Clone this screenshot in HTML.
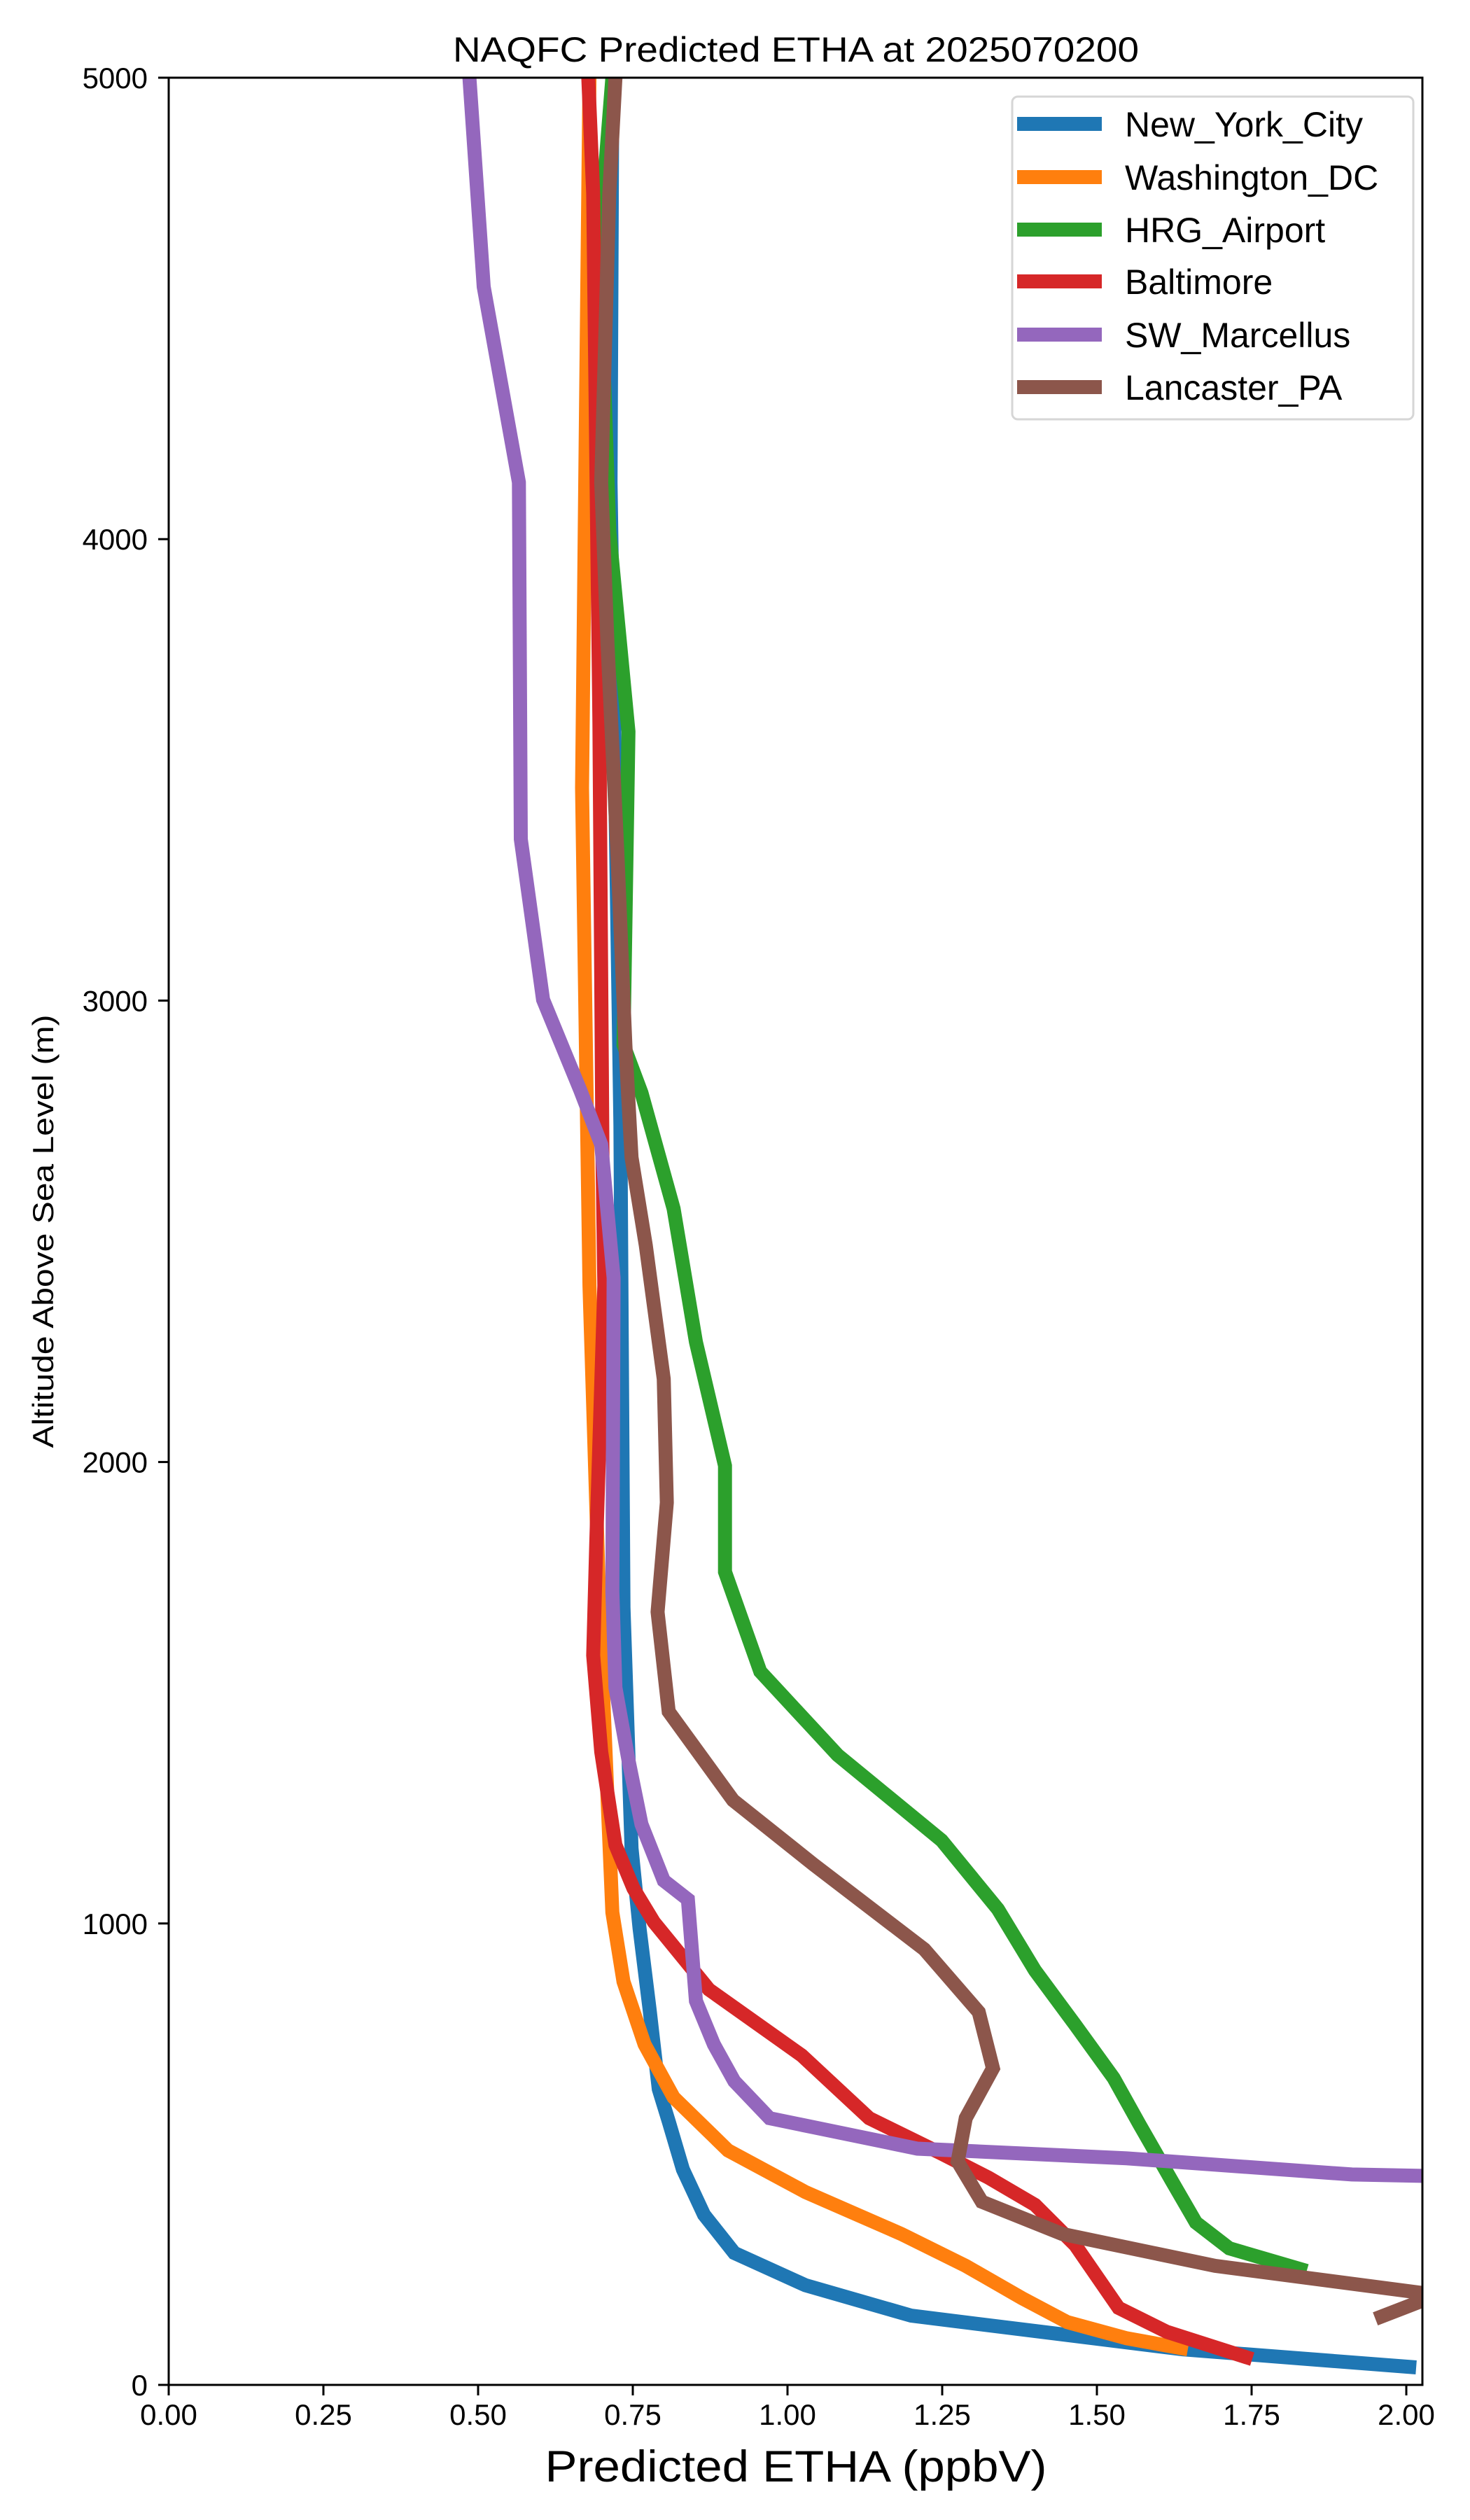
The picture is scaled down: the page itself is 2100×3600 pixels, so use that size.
<!DOCTYPE html>
<html><head><meta charset="utf-8"><style>
html,body{margin:0;padding:0;background:#fff;}
svg{display:block;font-family:"Liberation Sans","DejaVu Sans",sans-serif;}
</style></head><body>
<svg id="chart" width="2100" height="3600" viewBox="0 0 2100 3600" xmlns="http://www.w3.org/2000/svg">
<rect x="0" y="0" width="2100" height="3600" fill="#fff"/>
<defs><clipPath id="plotclip"><rect x="241" y="111" width="1791" height="3296"/></clipPath></defs>
<text x="1137" y="88" font-size="50" text-anchor="middle" textLength="980" lengthAdjust="spacingAndGlyphs">NAQFC Predicted ETHA at 2025070200</text>
<text x="1137" y="3545" font-size="63" text-anchor="middle" textLength="717" lengthAdjust="spacingAndGlyphs">Predicted ETHA (ppbV)</text>
<text x="0" y="0" font-size="42" text-anchor="middle" transform="translate(76,1759) rotate(-90)" textLength="619" lengthAdjust="spacingAndGlyphs">Altitude Above Sea Level (m)</text>
<g id="lines" clip-path="url(#plotclip)"></g>
<g id="axes"></g>
<g id="legend"></g>
</svg>
<script>
const seriesNames = ["New_York_City","Washington_DC","HRG_Airport","Baltimore","SW_Marcellus","Lancaster_PA"];
const seriesColors = ["#1f77b4","#ff7f0e","#2ca02c","#d62728","#9467bd","#8c564b"];
const nycVal = [0.717,0.714,0.730,0.735,0.748,0.761,0.777,0.792,0.808,0.831,0.865,0.914,1.029,1.20,1.639,2.016];
const nycAlt = [5000,4123,2730,1685,1163,989,815,641,571,467,369,286,216,150,77,38];
const dcVal = [0.680,0.668,0.680,0.696,0.717,0.735,0.769,0.816,0.904,1.029,1.184,1.288,1.379,1.452,1.548,1.647];
const dcAlt = [5000,3461,2382,1685,1024,874,738,623,508,418,327,258,188,136,101,77];
const hrgVal = [0.717,0.696,0.712,0.743,0.735,0.764,0.816,0.852,0.899,0.899,0.956,1.081,1.249,1.340,1.400,1.465,1.527,1.569,1.621,1.660,1.714,1.839];
const hrgAlt = [5000,4645,4018,3583,2904,2800,2549,2260,1992,1762,1546,1365,1180,1031,898,780,665,564,442,352,296,247];
const balVal = [0.678,0.686,0.696,0.701,0.704,0.691,0.686,0.699,0.722,0.751,0.784,0.873,1.023,1.132,1.249,1.325,1.400,1.465,1.535,1.613,1.751];
const balAlt = [5000,4749,3600,2660,2382,1825,1581,1372,1170,1076,1003,857,714,578,501,449,390,303,167,115,56];
const swmVal = [0.486,0.509,0.566,0.569,0.605,0.665,0.699,0.719,0.717,0.722,0.743,0.764,0.800,0.839,0.852,0.881,0.914,0.971,1.210,1.548,1.912,2.026];
const swmAlt = [5000,4547,4123,3350,3002,2806,2688,2399,1720,1511,1354,1215,1093,1052,832,738,658,578,512,491,456,453];
const lanVal = [0.722,0.712,0.699,0.709,0.725,0.738,0.748,0.771,0.800,0.805,0.790,0.808,0.912,1.042,1.221,1.309,1.332,1.288,1.275,1.314,1.444,1.691,2.05,1.95];
const lanAlt = [5000,4749,4123,3775,3322,2904,2660,2469,2180,1912,1675,1459,1267,1128,944,808,686,578,484,397,327,258,195,143];
const xTicks = [0,0.25,0.5,0.75,1.0,1.25,1.5,1.75,2.0];
const xTickLabels = ["0.00","0.25","0.50","0.75","1.00","1.25","1.50","1.75","2.00"];
const yTicks = [0,1000,2000,3000,4000,5000];
const yTickLabels = ["0","1000","2000","3000","4000","5000"];

const NS="http://www.w3.org/2000/svg";
const X0=241, PX=884, Y0=3407, PY=0.6592;
function xs(v){return X0+v*PX;}
function ys(a){return Y0-a*PY;}
function mk(tag,attrs,parent){const e=document.createElementNS(NS,tag);for(const k in attrs)e.setAttribute(k,attrs[k]);parent.appendChild(e);return e;}

const allVals=[nycVal,dcVal,hrgVal,balVal,swmVal,lanVal];
const allAlts=[nycAlt,dcAlt,hrgAlt,balAlt,swmAlt,lanAlt];
const lines=document.getElementById('lines');
for(let s=0;s<seriesNames.length;s++){
  const pts=allVals[s].map((v,i)=>xs(v).toFixed(1)+","+ys(allAlts[s][i]).toFixed(1)).join(" ");
  const pl=mk('polyline',{points:pts,fill:'none',stroke:seriesColors[s],'stroke-width':20,'stroke-linejoin':'miter','stroke-linecap':'butt'},lines);
  
  
}

const axes=document.getElementById('axes');
const frame=mk('rect',{x:241,y:111,width:1791,height:3296,fill:'none',stroke:'#000','stroke-width':3},axes);


xTicks.forEach((t,i)=>{
  const x=xs(t);
  const tk=mk('line',{x1:x,y1:3407,x2:x,y2:3422,stroke:'#000','stroke-width':3},axes);
  
  
  const lb=mk('text',{x:x,y:3464,'font-size':42,'text-anchor':'middle'},axes);
  lb.textContent=xTickLabels[i];
  
  
});
yTicks.forEach((t,i)=>{
  const y=ys(t);
  const tk=mk('line',{x1:226,y1:y,x2:241,y2:y,stroke:'#000','stroke-width':3},axes);
  
  
  const lb=mk('text',{x:211,y:y+15,'font-size':42,'text-anchor':'end'},axes);
  lb.textContent=yTickLabels[i];
  
  
});

const legend=document.getElementById('legend');
const box=mk('rect',{x:1446,y:138,width:573,height:461,rx:8,fill:'#fff','fill-opacity':0.8,stroke:'#d6d6d6','stroke-width':3},legend);


const rowY=[177,253,328,402,478,553];
seriesNames.forEach((n,i)=>{
  const g=mk('g',{},legend);
  
  
  const h=mk('line',{x1:1453,y1:rowY[i],x2:1574,y2:rowY[i],stroke:seriesColors[i],'stroke-width':20},g);
  
  
  const t=mk('text',{x:1607,y:rowY[i]+18,'font-size':50},g);
  t.textContent=n;
  
  
});
</script>
</body></html>
